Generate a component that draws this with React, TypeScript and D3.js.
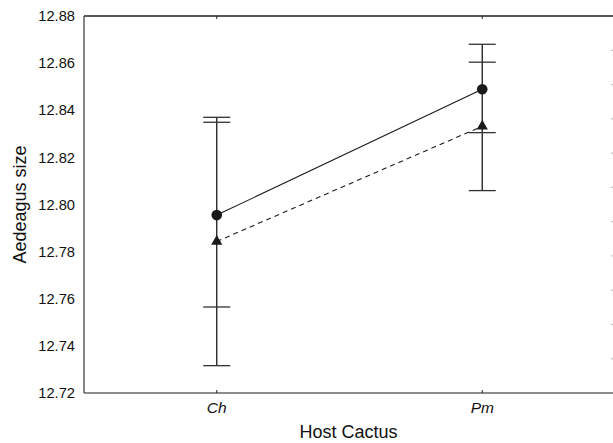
import React, { useEffect, useRef } from 'react';
import * as d3 from 'd3';

const hosts = ['Ch', 'Pm'];
const yTicks = [12.72, 12.74, 12.76, 12.78, 12.8, 12.82, 12.84, 12.86, 12.88];

// two series: circles (solid line) and triangles (dashed line)
const circleMean = [12.7955, 12.8489];
const circleLow = [12.7565, 12.8305];
const circleHigh = [12.837, 12.868];

const triMean = [12.7843, 12.8332];
const triLow = [12.7316, 12.8059];
const triHigh = [12.8349, 12.8604];

const W = 613;
const H = 443;

const App = () => {
  const svgRef = useRef<SVGSVGElement>(null);

  useEffect(() => {
    const svg = d3.select(svgRef.current);
    svg.selectAll('*').remove();

    const left = 84;
    const right = 615; // right frame sits just past the picture
    const top = 16;
    const bottom = 393;

    const x = d3.scalePoint().domain(hosts).range([left, right]).padding(0.5);
    const y = d3.scaleLinear().domain([12.72, 12.88]).range([bottom, top]);

    const font = 'Liberation Sans, Arial, Helvetica, sans-serif';

    // frame
    svg.append('line')
      .attr('x1', left).attr('x2', W).attr('y1', top).attr('y2', top)
      .attr('stroke', '#222').attr('stroke-width', 1.3);
    svg.append('line')
      .attr('x1', left).attr('x2', W).attr('y1', bottom).attr('y2', bottom)
      .attr('stroke', '#666').attr('stroke-width', 1.6);
    svg.append('line')
      .attr('x1', left).attr('x2', left).attr('y1', top).attr('y2', bottom)
      .attr('stroke', '#444').attr('stroke-width', 1.3);

    // faint ticks of the neighbouring axis on the right edge
    const edge = d3.scaleLinear().domain([0, 11]).range([top, bottom]);
    svg.append('g')
      .selectAll('line')
      .data(d3.range(1, 11))
      .join('line')
      .attr('x1', 611).attr('x2', 613)
      .attr('y1', d => edge(d)).attr('y2', d => edge(d))
      .attr('stroke', '#bbb').attr('stroke-width', 1);

    // category ticks, pointing inward on top and bottom
    hosts.forEach(h => {
      const cx = x(h) as number;
      svg.append('line').attr('x1', cx).attr('x2', cx).attr('y1', top).attr('y2', top + 3)
        .attr('stroke', '#222').attr('stroke-width', 1);
      svg.append('line').attr('x1', cx).attr('x2', cx).attr('y1', bottom).attr('y2', bottom - 3)
        .attr('stroke', '#222').attr('stroke-width', 1);
    });

    // y tick labels
    svg.append('g')
      .selectAll('text')
      .data(yTicks)
      .join('text')
      .attr('x', left - 9)
      .attr('y', d => y(d))
      .attr('dy', '0.35em')
      .attr('text-anchor', 'end')
      .style('font', `14.7px ${font}`)
      .attr('fill', '#111')
      .text(d => d.toFixed(2));

    // x tick labels
    svg.append('g')
      .selectAll('text')
      .data(hosts)
      .join('text')
      .attr('x', d => x(d) as number)
      .attr('y', 413)
      .attr('text-anchor', 'middle')
      .style('font', `italic 15.5px ${font}`)
      .attr('fill', '#111')
      .text(d => d);

    // axis titles
    svg.append('text')
      .attr('x', (left + W) / 2)
      .attr('y', 437.5)
      .attr('text-anchor', 'middle')
      .style('font', `18px ${font}`)
      .attr('fill', '#111')
      .text('Host Cactus');

    svg.append('text')
      .attr('transform', `translate(26,${(top + bottom) / 2}) rotate(-90)`)
      .attr('text-anchor', 'middle')
      .style('font', `18px ${font}`)
      .attr('fill', '#111')
      .text('Aedeagus size');

    // error bars
    const g = svg.append('g');
    hosts.forEach((h, i) => {
      const cx = x(h) as number;
      const lo = Math.min(circleLow[i], triLow[i]);
      const hi = Math.max(circleHigh[i], triHigh[i]);
      g.append('line')
        .attr('x1', cx).attr('x2', cx).attr('y1', y(hi)).attr('y2', y(lo))
        .attr('stroke', '#1a1a1a').attr('stroke-width', 1.3);
      [circleLow[i], circleHigh[i], triLow[i], triHigh[i]].forEach(v => {
        g.append('line')
          .attr('x1', cx - 13.5).attr('x2', cx + 13.5)
          .attr('y1', y(v)).attr('y2', y(v))
          .attr('stroke', '#333').attr('stroke-width', 1.3);
      });
    });

    // mean lines
    const line = d3.line<number>()
      .x((_, i) => x(hosts[i]) as number)
      .y(d => y(d));

    g.append('path')
      .attr('d', line(circleMean))
      .attr('fill', 'none')
      .attr('stroke', '#1a1a1a')
      .attr('stroke-width', 1.1);

    g.append('path')
      .attr('d', line(triMean))
      .attr('fill', 'none')
      .attr('stroke', '#1a1a1a')
      .attr('stroke-width', 1.1)
      .attr('stroke-dasharray', '5,4');

    // markers
    g.selectAll('circle.m')
      .data(circleMean)
      .join('circle')
      .attr('class', 'm')
      .attr('cx', (_, i) => x(hosts[i]) as number)
      .attr('cy', d => y(d))
      .attr('r', 5.3)
      .attr('fill', '#1a1a1a');

    const tri = d3.symbol().type(d3.symbolTriangle).size(54);
    g.selectAll('path.t')
      .data(triMean)
      .join('path')
      .attr('class', 't')
      .attr('d', tri)
      .attr('transform', (d, i) => `translate(${x(hosts[i])},${y(d)})`)
      .attr('fill', '#1a1a1a');
  }, []);

  return (
    <svg
      ref={svgRef}
      width={W}
      height={H}
      style={{ position: 'absolute', left: 0, top: 0, background: '#fff' }}
    />
  );
};

export default App;
